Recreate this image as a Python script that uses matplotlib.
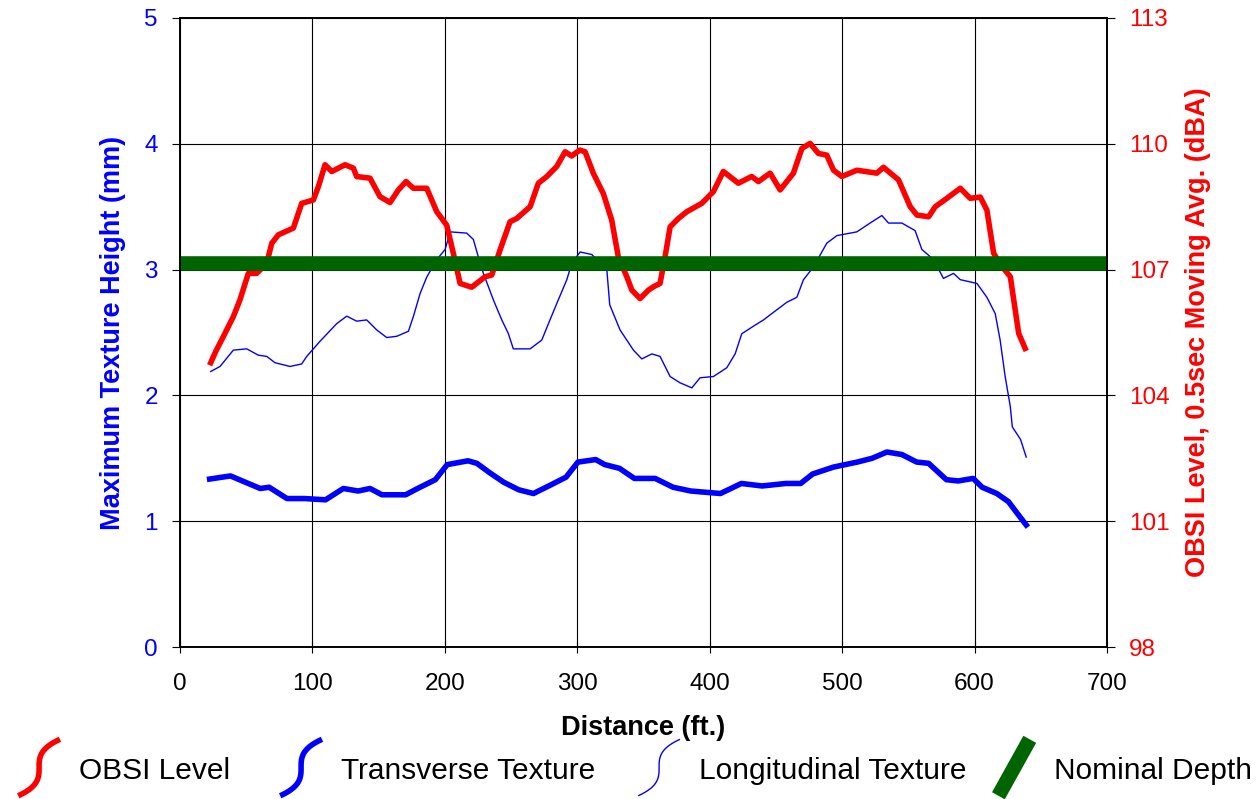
import numpy as np
import matplotlib
matplotlib.use("Agg")
import matplotlib.pyplot as plt
from matplotlib.legend_handler import HandlerBase
from matplotlib.lines import Line2D

plt.rcParams['font.family'] = ['Liberation Sans', 'DejaVu Sans']

# OBSI level, 0.5 sec moving average (dBA)
obsi_ft = [23.2, 27, 32.7, 40.3, 45.3, 51.6, 57.9, 65.5, 69.3, 74.3, 85.6, 91.9, 100.7, 104.5,
           109.5, 114.6, 124.6, 130.9, 133.4, 143.5, 151, 158.6, 164.9, 170.7, 176.2, 186.3,
           193.9, 201.4, 206.4, 211.5, 220.3, 230.4, 235.4, 241.7, 249.2, 254.3, 264.4, 270.6,
           277, 284.5, 290.8, 295.8, 301.8, 305.9, 312.2, 319.7, 326, 331, 337.4, 341.2, 347.4,
           353.7, 357.5, 362.5, 366.3, 370.1, 376.4, 382.7, 394, 402.8, 410.3, 421.6, 431.7,
           436.8, 445.6, 453.2, 463.2, 469.6, 475.8, 482.1, 488.4, 493.5, 499.8, 511.1, 526.2,
           531.2, 542.6, 551.4, 556.5, 565.3, 570.3, 579.1, 589.2, 596.7, 604.3, 609.3, 614.4,
           620, 627, 633.3, 638.2]
obsi_dba = [104.78, 105.05, 105.4, 105.88, 106.28, 106.91, 106.91, 107.15, 107.63, 107.83, 107.99,
            108.58, 108.66, 108.98, 109.50, 109.34, 109.50, 109.42, 109.22, 109.18, 108.74, 108.6,
            108.9, 109.1, 108.94, 108.94, 108.38, 108.06, 107.39, 106.67, 106.58, 106.83, 106.87,
            107.47, 108.14, 108.22, 108.50, 109.06, 109.22, 109.46, 109.81, 109.71, 109.85, 109.81,
            109.29, 108.81, 108.18, 107.3, 106.83, 106.51, 106.31, 106.51, 106.59, 106.67, 107.31,
            108.02, 108.22, 108.38, 108.58, 108.86, 109.34, 109.06, 109.22, 109.1, 109.30, 108.9,
            109.3, 109.89, 110.01, 109.77, 109.73, 109.37, 109.22, 109.37, 109.30, 109.44, 109.14,
            108.50, 108.30, 108.26, 108.50, 108.70, 108.94, 108.70, 108.73, 108.42, 107.39, 107.1,
            106.83, 105.48, 105.12]

# transverse texture height (mm)
trans_ft = [22.4, 38.1, 49.3, 60.6, 67.3, 80.8, 94.2, 109.9, 123.3, 134.5, 143.5, 152.5, 170.4,
            179.4, 192.8, 201.8, 217.5, 224.2, 233.2, 244.4, 255.7, 266.9, 280.3, 291.5, 300.5,
            313.9, 320.7, 331.9, 343.1, 358.8, 372.3, 385.7, 408.1, 423.9, 439.6, 457.5, 468.7,
            477.7, 493.4, 511.4, 522.6, 533.8, 545.1, 556.3, 565.3, 578.7, 587.7, 598.9, 605.7,
            616.8, 625.6, 632.4, 639]
trans_mm = [1.335, 1.36, 1.31, 1.26, 1.27, 1.18, 1.18, 1.17, 1.26, 1.24, 1.26, 1.21, 1.21, 1.26,
            1.33, 1.45, 1.48, 1.46, 1.39, 1.31, 1.25, 1.22, 1.29, 1.35, 1.47, 1.49, 1.45, 1.42,
            1.34, 1.34, 1.27, 1.24, 1.22, 1.30, 1.28, 1.30, 1.30, 1.375, 1.43, 1.47, 1.50, 1.55,
            1.53, 1.47, 1.46, 1.33, 1.32, 1.34, 1.27, 1.22, 1.155, 1.06, 0.97]

# longitudinal texture height (mm)
long_ft = [23.2, 30.2, 40.3, 50.4, 59.1, 65.5, 71.7, 83.1, 91.9, 95.7, 105.7, 118.3, 125.9, 133.4,
           141, 148.6, 156.1, 163.7, 172.5, 176.3, 181.3, 186.3, 193.9, 200.2, 204, 216.5, 221.5,
           225.3, 229.1, 236.6, 243, 248, 251.7, 264.4, 273.2, 278.2, 284.5, 292.1, 295.8, 302.1,
           310.9, 322.3, 324.5, 332.3, 342.4, 348.7, 356.3, 362.5, 370.1, 377.6, 386.5, 392.7,
           402.8, 412.9, 419.2, 424.2, 433, 440.6, 450.6, 458.2, 465.8, 470.8, 478.3, 488.4, 496,
           511.1, 521.1, 530, 535, 545.1, 555.1, 560.2, 569, 576.5, 584.1, 589.2, 601.8, 609.3,
           615.6, 619.3, 623.1, 627, 628.5, 634.7, 639]
long_mm = [2.19, 2.23, 2.36, 2.37, 2.32, 2.31, 2.26, 2.23, 2.25, 2.31, 2.43, 2.57, 2.63, 2.59, 2.60,
           2.52, 2.46, 2.47, 2.51, 2.63, 2.81, 2.94, 3.08, 3.16, 3.30, 3.29, 3.24, 3.10, 2.97, 2.76,
           2.60, 2.49, 2.37, 2.37, 2.44, 2.57, 2.73, 2.92, 3.05, 3.14, 3.12, 3.00, 2.72, 2.52, 2.36,
           2.29, 2.33, 2.31, 2.15, 2.10, 2.06, 2.14, 2.15, 2.22, 2.33, 2.49, 2.55, 2.60, 2.68, 2.74,
           2.78, 2.92, 3.02, 3.21, 3.27, 3.30, 3.37, 3.43, 3.37, 3.37, 3.31, 3.16, 3.08, 2.93, 2.97,
           2.92, 2.89, 2.78, 2.65, 2.44, 2.15, 1.91, 1.75, 1.65, 1.51]

nominal_mm = 3.05
nominal_span = [0, 700]

x_ticks = [0, 100, 200, 300, 400, 500, 600, 700]
left_ticks = [0, 1, 2, 3, 4, 5]
right_ticks = [98, 101, 104, 107, 110, 113]

legend_labels = ["OBSI Level", "Transverse Texture", "Longitudinal Texture", "Nominal Depth"]


class SHandler(HandlerBase):
    # squiggle-shaped legend key like the original spreadsheet chart
    def __init__(self, shape="s"):
        super().__init__()
        self.shape = shape

    def create_artists(self, legend, orig_handle, xdescent, ydescent, width, height, fontsize, trans):
        t = np.linspace(0, 1, 60)
        if self.shape == "s":
            xs = 0.1 + 0.8 * (0.5 + 0.5 * (2 * t - 1) ** 3)
        else:
            xs = 0.2 + 0.6 * t
        xx = -xdescent + xs * width
        yy = -ydescent - 0.8 * height + t * 2.7 * height
        ln = Line2D(xx, yy, color=orig_handle.get_color(), lw=orig_handle.get_linewidth(),
                    solid_capstyle="butt")
        ln.set_transform(trans)
        return [ln]


fig = plt.figure(figsize=(12.59, 7.99), dpi=100)
ax = fig.add_axes([180 / 1259, 1 - 647 / 799, (1107 - 180) / 1259, (647 - 18) / 799])
ax2 = ax.twinx()

l_trans, = ax.plot(trans_ft, trans_mm, color="#0000FF", lw=4.0)
l_long, = ax.plot(long_ft, long_mm, color="#0000FF", lw=1.0)
l_obsi, = ax2.plot(obsi_ft, obsi_dba, color="#FF0000", lw=4.0)
l_nom, = ax2.plot(nominal_span, [nominal_mm, nominal_mm], color="#006400", lw=10.5,
                  solid_capstyle="butt", transform=ax.transData)

ax.set_xlim(0, 700)
ax.set_ylim(0, 5)
ax2.set_ylim(98, 113)
ax.set_xticks(x_ticks)
ax.set_yticks(left_ticks)
ax2.set_yticks(right_ticks)
ax.grid(True, color="black", lw=0.8)
ax.set_axisbelow(True)

ax.tick_params(axis="x", direction="inout", length=8, labelsize=17.5, pad=15, color="black")
ax.tick_params(axis="y", direction="out", length=6, labelsize=17.5, labelcolor="#0000FF", pad=10)
ax2.tick_params(axis="y", direction="out", length=6, labelsize=17.5, labelcolor="#FF0000", pad=10)

for a in (ax, ax2):
    for s in a.spines.values():
        s.set_color("black")
        s.set_linewidth(1.2)

ax.set_xlabel("Distance (ft.)", fontsize=19.5, fontweight="bold", labelpad=14)
ax.set_ylabel("Maximum Texture Height (mm)", fontsize=19.5, fontweight="bold", color="#0000FF",
              labelpad=13)
ax2.set_ylabel("OBSI Level, 0.5sec Moving Avg. (dBA)", fontsize=19.5, fontweight="bold",
               color="#FF0000", labelpad=11)

# one legend per entry so the uneven spacing of the original can be kept
handles = [l_obsi, l_trans, l_long, l_nom]
shapes = ["s", "s", "s", "d"]
anchors_px = [4, 266, 624, 979]
for h, lab, shp, xp in zip(handles, legend_labels, shapes, anchors_px):
    leg = fig.legend([h], [lab], handler_map={h: SHandler(shp)},
                     loc="center left", bbox_to_anchor=(xp / 1259, 0.035), frameon=False,
                     fontsize=21.5, handlelength=1.75, handletextpad=0.45,
                     borderaxespad=0, borderpad=0.3)

fig.savefig("out.png", dpi=100)
